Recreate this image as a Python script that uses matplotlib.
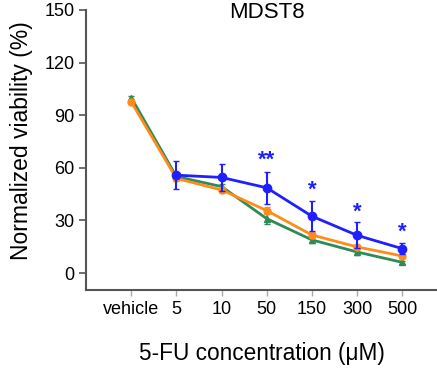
import numpy as np
import matplotlib.pyplot as plt

plt.rcParams['font.family'] = ['Liberation Sans', 'DejaVu Sans']

# --- data ---
doses = ['vehicle', '5', '10', '50', '150', '300', '500']

blue_mean = [None, 55.8, 54.5, 48.6, 32.4, 21.5, 13.9]
blue_err = [None, 8.0, 7.7, 9.0, 8.6, 7.5, 3.0]
orange_mean = [97.6, 53.9, 47.4, 35.6, 21.7, 14.9, 9.7]
orange_err = [1.0, 1.5, 1.5, 2.0, 1.5, 1.2, 1.0]
green_mean = [100.0, 55.0, 49.3, 31.0, 18.9, 12.0, 6.1]
green_err = [1.0, 2.0, 1.5, 3.0, 2.0, 1.5, 1.0]

# significance stars (dose index, label, height)
star_idx = [3, 4, 5, 6]
star_txt = ['**', '*', '*', '*']
star_y = [64.5, 47.3, 34.6, 23.0]

x = np.arange(len(doses))

fig = plt.figure(figsize=(4.37, 3.69), dpi=100)
ax = fig.add_axes([0.197, 0.214, 0.803, 0.759])

c_blue = '#1f1fff'
c_orange = '#ff8c1a'
c_green = '#2e8b57'

ax.errorbar(x, green_mean, yerr=green_err, color=c_green, marker='^', ms=5,
            lw=2, capsize=2, elinewidth=1.2, zorder=2)
ax.errorbar(x, orange_mean, yerr=orange_err, color=c_orange, marker='o', ms=5,
            lw=2, capsize=2, elinewidth=1.2, zorder=3)
bx = x[1:]
ax.errorbar(bx, blue_mean[1:], yerr=blue_err[1:], color=c_blue, marker='o', ms=6,
            lw=2, capsize=2.5, elinewidth=1.5, zorder=4)

for i, t, yy in zip(star_idx, star_txt, star_y):
    ax.text(x[i], yy, t, color=c_blue, ha='center', va='center',
            fontsize=16, fontweight='bold')

ax.set_xlim(-1, 6.77)
ax.set_ylim(-9.7, 150)
ax.set_yticks([0, 30, 60, 90, 120, 150])
ax.set_xticks(x)
ax.set_xticklabels(doses, fontsize=13)
ax.tick_params(axis='y', labelsize=13, length=5, color='#555555', width=1.2)
ax.tick_params(axis='x', length=4, color='#aaaaaa', width=1, pad=4)

for s in ['top', 'right']:
    ax.spines[s].set_visible(False)
for s in ['left', 'bottom']:
    ax.spines[s].set_color('#555555')
    ax.spines[s].set_linewidth(1.5)

ax.set_ylabel('Normalized viability (%)', fontsize=16.5)
ax.yaxis.set_label_coords(-0.15, 0.535)
ax.set_xlabel('5-FU concentration (\u03bcM)', fontsize=16.3, labelpad=17)
ax.text(3.0, 148.3, 'MDST8', ha='center', va='center', fontsize=16)

fig.savefig('out.png', dpi=100)
